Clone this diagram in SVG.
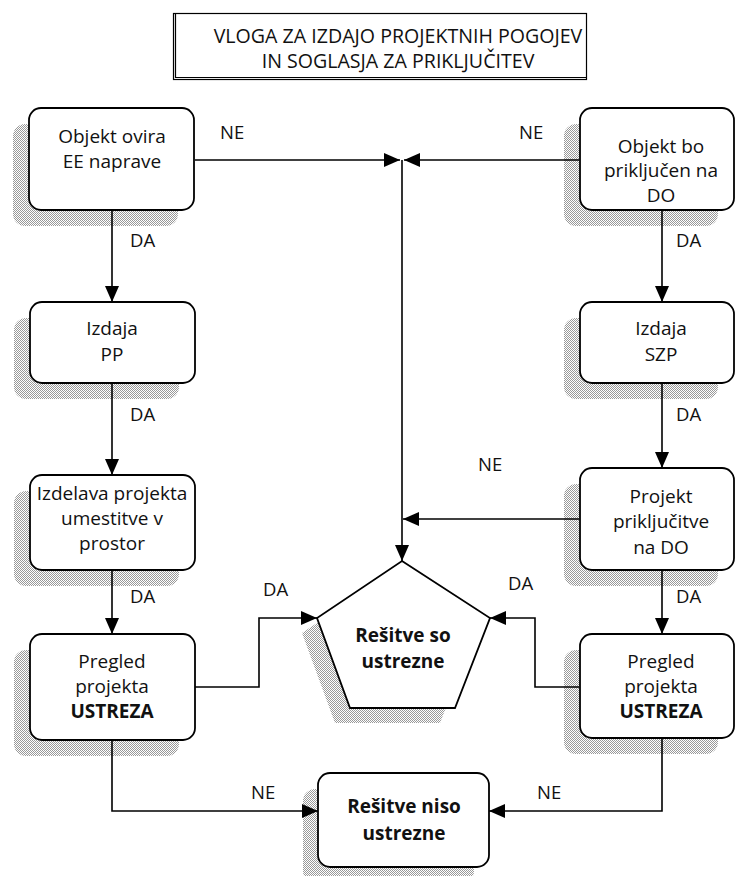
<svg xmlns="http://www.w3.org/2000/svg" width="736" height="876" viewBox="0 0 736 876">
<defs>
<pattern id="stip" width="2" height="2" patternUnits="userSpaceOnUse">
<rect width="2" height="2" fill="#ffffff"/>
<rect width="1" height="1" fill="#999999"/>
<rect x="1" y="1" width="1" height="1" fill="#999999"/>
</pattern>
<marker id="arr" markerUnits="userSpaceOnUse" markerWidth="17" markerHeight="15" refX="16" refY="7" orient="auto">
<path d="M0,0 L16,7 L0,14 Z" fill="#000"/>
</marker>
<style>
.box{fill:#fff;stroke:#000;stroke-width:1.8}
.sh{fill:url(#stip);stroke:none}
.t{font-family:"Open Sans","Noto Sans",sans-serif;font-size:19px;fill:#111;text-anchor:middle}
.b{font-weight:bold}
.lbl{font-family:"Open Sans","Noto Sans",sans-serif;font-size:18.5px;fill:#111}
.c{fill:none;stroke:#000;stroke-width:1.6}
</style>
</defs>
<rect width="736" height="876" fill="#fff"/>

<g id="title">
<rect x="173.5" y="13.5" width="413" height="66" fill="#fff" stroke="#000" stroke-width="1.2"/>
<polyline points="175.5,13.5 175.5,77.5 586.5,77.5" fill="none" stroke="#000" stroke-width="1.2"/>
<text class="t" x="398" y="43" style="font-size:19.6px">VLOGA ZA IZDAJO PROJEKTNIH POGOJEV</text>
<text class="t" x="398" y="68" style="font-size:19.6px">IN SOGLASJA ZA PRIKLJUČITEV</text>
</g>

<g id="n1">
<rect class="sh" x="13" y="124" width="165" height="102" rx="12"/>
<rect class="box" x="29" y="108" width="165" height="102" rx="12"/>
<text class="t" x="112" y="143">Objekt ovira</text>
<text class="t" x="112" y="168">EE naprave</text>
</g>
<g id="n2">
<rect class="sh" x="14" y="318" width="165" height="81" rx="12"/>
<rect class="box" x="30" y="302" width="165" height="81" rx="12"/>
<text class="t" x="112" y="335">Izdaja</text>
<text class="t" x="112" y="361">PP</text>
</g>
<g id="n3">
<rect class="sh" x="14" y="491" width="165" height="95" rx="12"/>
<rect class="box" x="30" y="475" width="165" height="95" rx="12"/>
<text class="t" x="112" y="500">Izdelava projekta</text>
<text class="t" x="112" y="525">umestitve v</text>
<text class="t" x="112" y="550">prostor</text>
</g>
<g id="n4">
<rect class="sh" x="14" y="650" width="165" height="106" rx="12"/>
<rect class="box" x="30" y="634" width="165" height="106" rx="12"/>
<text class="t" x="112" y="668">Pregled</text>
<text class="t" x="112" y="693">projekta</text>
<text class="t b" x="112" y="718">USTREZA</text>
</g>

<g id="r1">
<rect class="sh" x="564" y="124" width="154" height="102" rx="12"/>
<rect class="box" x="580" y="108" width="154" height="102" rx="12"/>
<text class="t" x="661" y="153">Objekt bo</text>
<text class="t" x="661" y="177">priključen na</text>
<text class="t" x="661" y="202">DO</text>
</g>
<g id="r2">
<rect class="sh" x="564" y="318" width="154" height="81" rx="12"/>
<rect class="box" x="580" y="302" width="154" height="81" rx="12"/>
<text class="t" x="661" y="335">Izdaja</text>
<text class="t" x="661" y="361">SZP</text>
</g>
<g id="r3">
<rect class="sh" x="564" y="484" width="154" height="102" rx="12"/>
<rect class="box" x="580" y="468" width="154" height="102" rx="12"/>
<text class="t" x="661" y="503">Projekt</text>
<text class="t" x="661" y="528">priključitve</text>
<text class="t" x="661" y="554">na DO</text>
</g>
<g id="r4">
<rect class="sh" x="564" y="650" width="154" height="104" rx="12"/>
<rect class="box" x="580" y="634" width="154" height="104" rx="12"/>
<text class="t" x="661" y="668">Pregled</text>
<text class="t" x="661" y="693">projekta</text>
<text class="t b" x="661" y="718">USTREZA</text>
</g>

<g id="ok">
<polygon class="sh" points="387,576 475,633 440,723 335,723 302,633"/>
<polygon class="box" points="402,561 490,618 455,708 350,708 317,618"/>
<text class="t b" x="403" y="642">Rešitve so</text>
<text class="t b" x="403" y="668">ustrezne</text>
</g>

<g id="notok">
<rect class="sh" x="303" y="789" width="171" height="94" rx="12"/>
<rect class="box" x="318" y="773" width="171" height="94" rx="12"/>
<text class="t b" x="404" y="813">Rešitve niso</text>
<text class="t b" x="404" y="840">ustrezne</text>
</g>

<g id="connectors">
<line class="c" x1="195" y1="160" x2="400" y2="160" marker-end="url(#arr)"/>
<line class="c" x1="579" y1="160" x2="404" y2="160" marker-end="url(#arr)"/>
<line class="c" x1="402" y1="160" x2="402" y2="561" marker-end="url(#arr)"/>
<line class="c" x1="579" y1="519" x2="403" y2="519" marker-end="url(#arr)"/>
<line class="c" x1="112" y1="211" x2="112" y2="302" marker-end="url(#arr)"/>
<line class="c" x1="112" y1="384" x2="112" y2="475" marker-end="url(#arr)"/>
<line class="c" x1="112" y1="571" x2="112" y2="634" marker-end="url(#arr)"/>
<line class="c" x1="662" y1="211" x2="662" y2="302" marker-end="url(#arr)"/>
<line class="c" x1="662" y1="384" x2="662" y2="468" marker-end="url(#arr)"/>
<line class="c" x1="662" y1="571" x2="662" y2="634" marker-end="url(#arr)"/>
<path class="c" d="M195,687 H259 V618 H317" marker-end="url(#arr)"/>
<path class="c" d="M579,687 H535 V618 H490" marker-end="url(#arr)"/>
<path class="c" d="M112,741 V811 H318" marker-end="url(#arr)"/>
<path class="c" d="M662,739 V811 H489" marker-end="url(#arr)"/>
<text class="lbl" x="220" y="139">NE</text>
<text class="lbl" x="519" y="139">NE</text>
<text class="lbl" x="130" y="247">DA</text>
<text class="lbl" x="130" y="421">DA</text>
<text class="lbl" x="130" y="603">DA</text>
<text class="lbl" x="676" y="247">DA</text>
<text class="lbl" x="676" y="421">DA</text>
<text class="lbl" x="676" y="603">DA</text>
<text class="lbl" x="478" y="471">NE</text>
<text class="lbl" x="263" y="596">DA</text>
<text class="lbl" x="508" y="590">DA</text>
<text class="lbl" x="251" y="799">NE</text>
<text class="lbl" x="537" y="799">NE</text>
</g>
</svg>
